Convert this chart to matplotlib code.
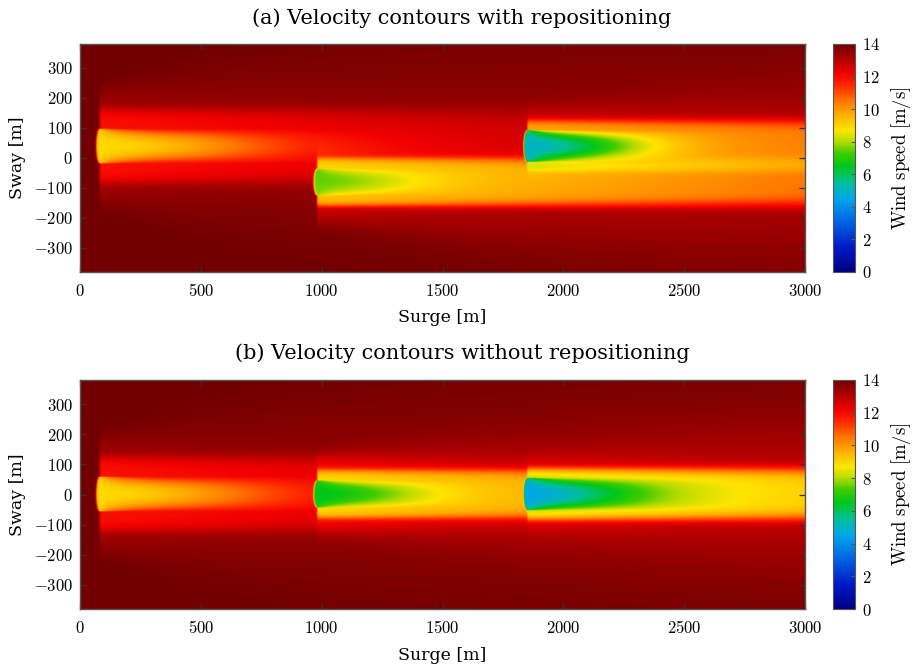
import numpy as np
import matplotlib.pyplot as plt
from matplotlib.colors import LinearSegmentedColormap
from matplotlib.ticker import FuncFormatter

plt.rcParams['mathtext.fontset'] = 'cm'
plt.rcParams['font.family'] = ['DejaVu Serif']

# free stream and turbine layout [m]
u_inf = 14.0
turbine_x = [80, 980, 1850]
sway_repos = [40, -80, 40]     # (a) with repositioning
sway_fixed = [0, 0, 0]         # (b) without repositioning

# wake description per turbine (deficits in m/s, sizes in m)
core_amp_repos = [3.0, 1.7, 4.9]
core_amp_fixed = [3.0, 2.5, 4.3]
core_rad = [58, 45, 53]
core_len = [700, 430, 470]
band_amp = [1.3, 3.4, 3.0]
band_rad = [125, 82, 88]
band_len = [2500, 4000, 4000]
halo_amp = [0.8, 1.3, 1.0]
halo_rad = [190, 140, 140]

titles = ['(a) Velocity contours with repositioning',
          '(b) Velocity contours without repositioning']

# colour scale of the wind speed
cb_vals = [0, 1.5, 3, 4.5, 5.5, 6.5, 7.3, 8.0, 8.7, 9.5, 10.5, 11.5, 12.2, 13.0, 14]
cb_cols = [(0, 0, 0.5), (0, 0.1, 0.78), (0, 0.38, 0.88), (0, 0.65, 0.92),
           (0, 0.75, 0.6), (0, 0.78, 0.1), (0.25, 0.8, 0), (0.7, 0.86, 0),
           (1, 0.9, 0), (1, 0.72, 0), (1, 0.47, 0), (1, 0.15, 0),
           (0.95, 0, 0), (0.72, 0, 0), (0.45, 0, 0)]
cmap = LinearSegmentedColormap.from_list(
    'wind', list(zip(np.array(cb_vals) / 14.0, cb_cols)))


def single_wake(xx, yy, i, y0, a_core):
    dx = xx - turbine_x[i]
    dy = yy - y0
    xs = np.clip(dx, 0, None)
    # rounded front of the wake
    bow = 14 * np.sqrt(np.clip(1 - (dy / core_rad[i]) ** 2, 0, None))
    on = 0.5 * (1 + np.tanh((dx + bow) / 4.0))
    # flat near the rotor, more and more peaked downstream
    q = 0.06 + 1.0 * (1 - np.exp(-xs / 130))
    shape = np.clip(1 - (dy / core_rad[i]) ** 2, 0, None) ** q
    core = a_core * np.exp(-(xs / core_len[i]) ** 2) * shape
    n_band = 4 + 6 * np.exp(-xs / 800)
    band = band_amp[i] * np.exp(-(xs / band_len[i]) ** 2) * \
        np.exp(-np.abs(dy / band_rad[i]) ** n_band)
    rh = halo_rad[i] + 0.07 * xs
    n_halo = 2 + 4 * np.exp(-xs / 300)
    halo = halo_amp[i] * np.exp(-xs / 4000) * np.exp(-np.abs(dy / rh) ** n_halo)
    return on * (core + band + halo)


def wind_field(sway, a_core):
    x = np.linspace(0, 3000, 1500)
    y = np.linspace(-380, 380, 700)
    xx, yy = np.meshgrid(x, y)
    sq = np.zeros_like(xx)
    for i in range(len(turbine_x)):
        sq += single_wake(xx, yy, i, sway[i], a_core[i]) ** 2
    return np.clip(u_inf - np.sqrt(sq), 0, u_inf)


fig = plt.figure(figsize=(9.17, 6.69), dpi=100)
W, H = 917.0, 669.0
tick_fmt = FuncFormatter(lambda v, p: r'$%d$' % v)

panels = [(44, 272, sway_repos, core_amp_repos, 18),
          (380, 609, sway_fixed, core_amp_fixed, 353)]
for k, (top, bot, sway, a_core, ty) in enumerate(panels):
    ax = fig.add_axes([80 / W, 1 - bot / H, 725 / W, (bot - top) / H])
    field = wind_field(sway, a_core)
    im = ax.imshow(field, extent=[0, 3000, -380, 380], origin='lower',
                   aspect='auto', cmap=cmap, vmin=0, vmax=14,
                   interpolation='bilinear')
    ax.set_xlim(0, 3000)
    ax.set_ylim(-380, 380)
    ax.set_xticks(range(0, 3001, 500))
    ax.set_yticks(range(-300, 301, 100))
    ax.xaxis.set_major_formatter(tick_fmt)
    ax.yaxis.set_major_formatter(tick_fmt)
    ax.tick_params(direction='in', top=True, right=True, length=4,
                   width=0.9, color='#333333', labelsize=12)
    ax.tick_params(axis='x', pad=8)
    ax.tick_params(axis='y', pad=5)
    for s in ax.spines.values():
        s.set_color('#555555')
        s.set_linewidth(1.0)
    ax.set_xlabel('Surge [m]', fontsize=12.5, va='center')
    ax.xaxis.set_label_coords(0.5, -46 / (bot - top))
    ax.set_ylabel('Sway [m]', fontsize=12.5, va='center')
    ax.yaxis.set_label_coords(-62 / 725, 0.5)
    fig.text(462 / W, 1 - ty / H, titles[k], fontsize=15,
             ha='center', va='center')

    cax = fig.add_axes([833 / W, 1 - bot / H, 22 / W, (bot - top) / H])
    cb = fig.colorbar(im, cax=cax, ticks=range(0, 15, 2))
    cb.ax.yaxis.set_major_formatter(tick_fmt)
    cb.ax.tick_params(direction='in', length=3, labelsize=12, pad=5,
                      color='#555555')
    cb.outline.set_edgecolor('#555555')
    cb.set_label(r'$\mathrm{Wind\ speed\ [m/s]}$', fontsize=13.5, labelpad=6)

fig.savefig('out.png', dpi=100)
